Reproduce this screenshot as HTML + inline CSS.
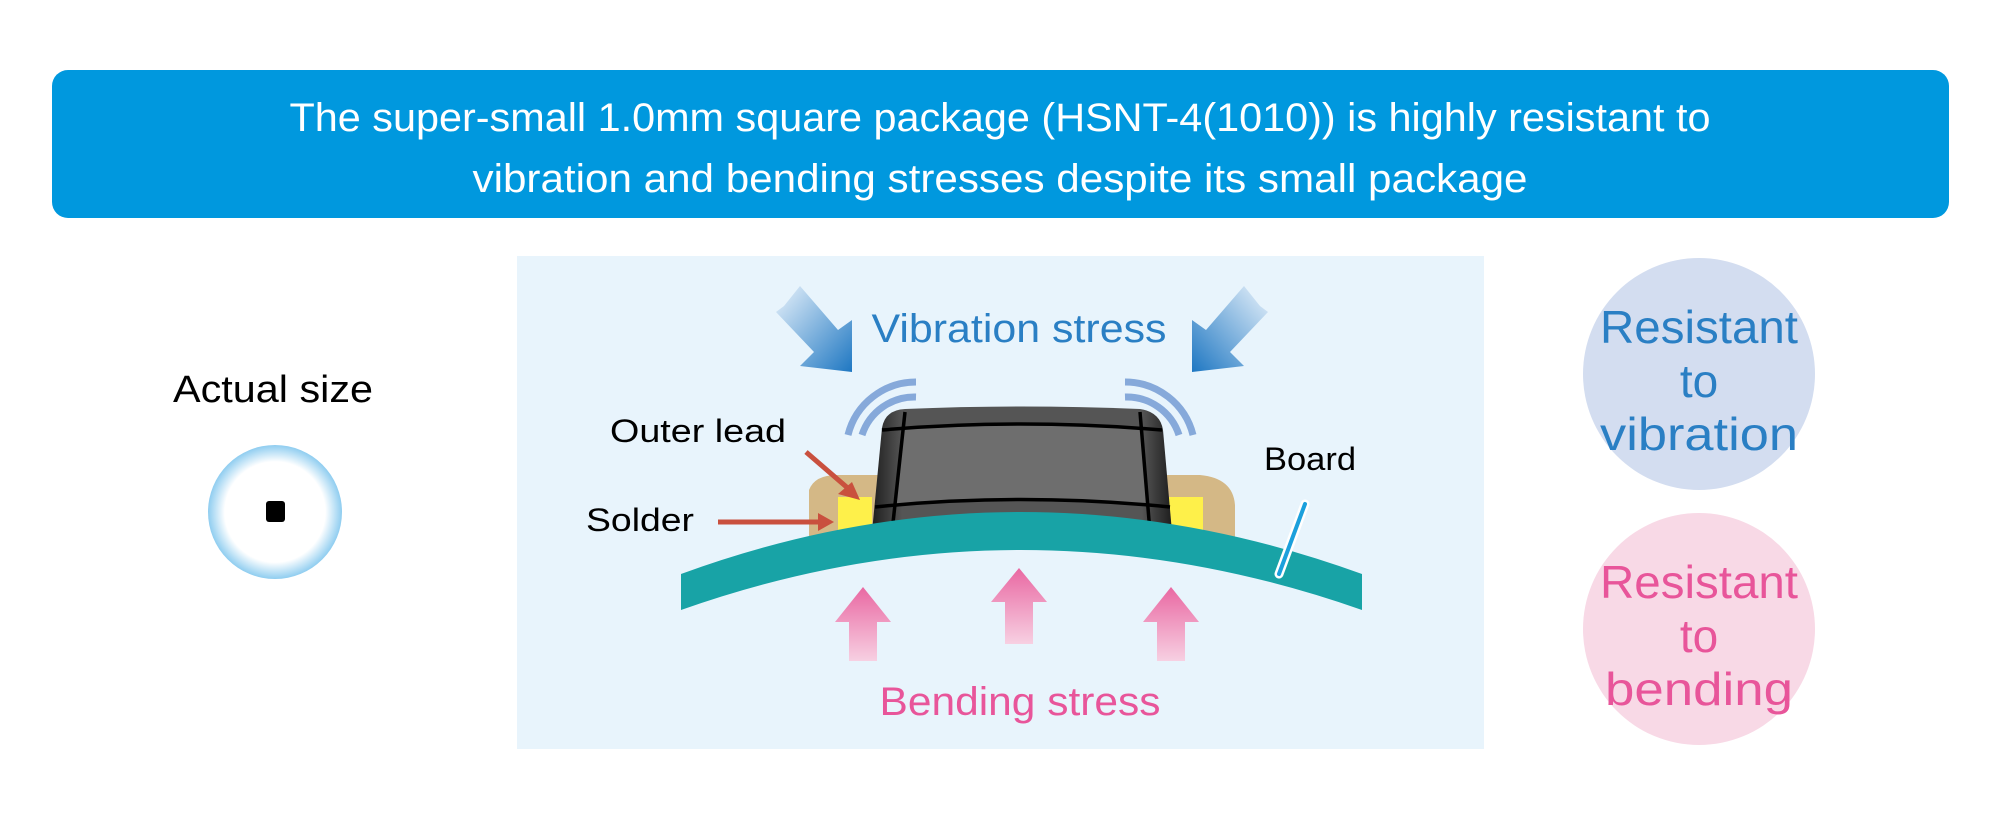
<!DOCTYPE html>
<html><head><meta charset="utf-8"><style>
html,body{margin:0;padding:0;background:#fff}
svg{display:block}
text{font-family:"Liberation Sans",sans-serif}
</style></head><body>
<svg width="2000" height="816" viewBox="0 0 2000 816" xmlns="http://www.w3.org/2000/svg">
<defs>
<radialGradient id="rg" cx="0.5" cy="0.5" r="0.5">
<stop offset="0.75" stop-color="#fff"/><stop offset="1" stop-color="#8fcdf0"/></radialGradient>
<linearGradient id="va" x1="0" y1="0" x2="1" y2="1"><stop offset="0" stop-color="#e8f2fb"/><stop offset="1" stop-color="#1e77c2"/></linearGradient>
<linearGradient id="vb" x1="1" y1="0" x2="0" y2="1"><stop offset="0" stop-color="#e8f2fb"/><stop offset="1" stop-color="#1e77c2"/></linearGradient>
<linearGradient id="pa" x1="0" y1="0" x2="0" y2="1"><stop offset="0" stop-color="#e968a2"/><stop offset="1" stop-color="#f7d0e2"/></linearGradient>
<linearGradient id="cg" x1="0" y1="0" x2="1" y2="0"><stop offset="0" stop-color="#1e1e1e"/><stop offset="0.1" stop-color="#555"/><stop offset="0.9" stop-color="#555"/><stop offset="1" stop-color="#1e1e1e"/></linearGradient>
</defs>
<rect x="52" y="70" width="1897" height="148" rx="16" fill="#0098de"/>
<text x="1000" y="131" font-size="40" fill="#fff" text-anchor="middle" textLength="1421" lengthAdjust="spacingAndGlyphs">The super-small 1.0mm square package (HSNT-4(1010)) is highly resistant to</text>
<text x="1000" y="192" font-size="40" fill="#fff" text-anchor="middle" textLength="1055" lengthAdjust="spacingAndGlyphs">vibration and bending stresses despite its small package</text>

<text x="273" y="402" font-size="38" fill="#000" text-anchor="middle" textLength="200" lengthAdjust="spacingAndGlyphs">Actual size</text>
<circle cx="275" cy="512" r="67" fill="url(#rg)"/>
<rect x="266" y="501" width="19" height="21" rx="3" fill="#000"/>

<rect x="517" y="256" width="967" height="493" fill="#e8f4fc"/>
<text x="1019" y="342" font-size="40" fill="#2a7fc4" text-anchor="middle" textLength="295" lengthAdjust="spacingAndGlyphs">Vibration stress</text>
<polygon points="784,306 800,286 838,330 852,320 852,372 800,366 814,352 776,312" fill="url(#va)"/>
<polygon points="1260,306 1244,286 1206,330 1192,320 1192,372 1244,366 1230,352 1268,312" fill="url(#vb)"/>
<g fill="none" stroke="#86a9da" stroke-width="7">
<path d="M916,382 A70,70 0 0 0 848,435"/><path d="M916,397 A55,55 0 0 0 862,435"/>
<path d="M1125,382 A70,70 0 0 1 1193,435"/><path d="M1125,397 A55,55 0 0 1 1179,435"/>
</g>
<path d="M809,542 L809,490 Q815,474 840,475 L1200,475 Q1233,478 1235,505 L1235,542 Z" fill="#d4b886"/>
<rect x="838" y="497" width="34" height="38" fill="#fef04a"/>
<rect x="1169" y="497" width="34" height="38" fill="#fef04a"/>
<path d="M872,532 L882,428 Q885,410 905,409 Q1020,404 1140,409 Q1160,412 1163,430 L1172,532 Z" fill="url(#cg)"/>
<path d="M903,428 Q1020,418 1142,428 L1147,505 Q1020,494 896,505 Z" fill="#6e6e6e"/>
<g stroke="#000" stroke-width="3.5" fill="none">
<path d="M882,430 Q1020,418 1162,430"/><path d="M875,507 Q1020,492 1170,507"/>
<path d="M905,412 L892,532"/><path d="M1140,412 L1150,532"/>
</g>
<path d="M681,574 Q1020,450 1362,574 L1362,610 Q1020,490 681,610 Z" fill="#18a3a6"/>
<line x1="1305" y1="504" x2="1279" y2="574" stroke="#fff" stroke-width="9" stroke-linecap="round"/>
<line x1="1305" y1="504" x2="1279" y2="574" stroke="#1ca0dc" stroke-width="4" stroke-linecap="round"/>
<text x="1310" y="470" font-size="32" fill="#000" text-anchor="middle" textLength="92" lengthAdjust="spacingAndGlyphs">Board</text>
<text x="698" y="442" font-size="32" fill="#000" text-anchor="middle" textLength="176" lengthAdjust="spacingAndGlyphs">Outer lead</text>
<text x="640" y="531" font-size="32" fill="#000" text-anchor="middle" textLength="108" lengthAdjust="spacingAndGlyphs">Solder</text>
<g stroke="#c9503e" stroke-width="5" fill="#c9503e">
<line x1="806" y1="452" x2="850" y2="490"/><line x1="718" y1="522" x2="820" y2="522"/>
</g>
<polygon points="860,500 838,494 852,482" fill="#c9503e"/>
<polygon points="834,522 818,513 818,531" fill="#c9503e"/>
<g fill="url(#pa)">
<polygon points="849,661 877,661 877,622 891,622 863,587 835,622 849,622"/>
<polygon points="1005,644 1033,644 1033,602 1047,602 1019,568 991,602 1005,602"/>
<polygon points="1157,661 1185,661 1185,622 1199,622 1171,587 1143,622 1157,622"/>
</g>
<text x="1020" y="715" font-size="40" fill="#e8559a" text-anchor="middle" textLength="281" lengthAdjust="spacingAndGlyphs">Bending stress</text>

<ellipse cx="1699" cy="374" rx="116" ry="116" fill="#d3ddf0"/>
<text font-size="46" fill="#2a7fc4" text-anchor="middle"><tspan x="1699" y="343" textLength="198" lengthAdjust="spacingAndGlyphs">Resistant</tspan><tspan x="1699" y="397">to</tspan><tspan x="1699" y="450" textLength="198" lengthAdjust="spacingAndGlyphs">vibration</tspan></text>
<ellipse cx="1699" cy="629" rx="116" ry="116" fill="#f8d9e6"/>
<text font-size="46" fill="#e8559a" text-anchor="middle"><tspan x="1699" y="598" textLength="198" lengthAdjust="spacingAndGlyphs">Resistant</tspan><tspan x="1699" y="652">to</tspan><tspan x="1699" y="705" textLength="188" lengthAdjust="spacingAndGlyphs">bending</tspan></text>
</svg>
</body></html>
